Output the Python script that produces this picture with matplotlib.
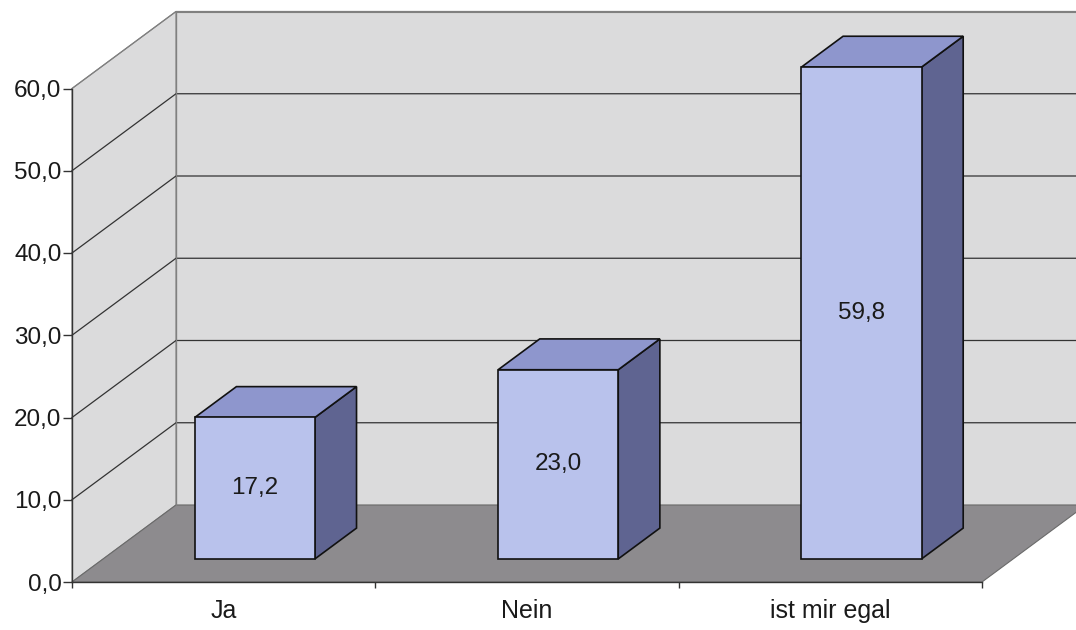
import matplotlib
matplotlib.use("Agg")
import matplotlib.pyplot as plt
from matplotlib.patches import Polygon

plt.rcParams['font.family'] = ['Liberation Sans', 'DejaVu Sans']

# ---- data ----
categories = ["Ja", "Nein", "ist mir egal"]
values = [17.2, 23.0, 59.8]
y_ticks = [0, 10, 20, 30, 40, 50, 60]
y_tick_labels = ["0,0", "10,0", "20,0", "30,0", "40,0", "50,0", "60,0"]
value_labels = ["17,2", "23,0", "59,8"]

W, H = 1076, 630
fig = plt.figure(figsize=(W / 100, H / 100), dpi=100)
fig.patch.set_facecolor("white")

# front plane of the 3D box in pixel coordinates
px_left, px_right = 72, 982
py_bottom, py_top = 582, 88.5
ax = fig.add_axes([px_left / W, (H - py_bottom) / H,
                   (px_right - px_left) / W, (py_bottom - py_top) / H])
ymax = 60
ax.set_xlim(0, len(categories))
ax.set_ylim(0, ymax)
ax.set_facecolor("none")

# depth offsets (full depth) in data units
px_per_cat = (px_right - px_left) / len(categories)
px_per_val = (py_bottom - py_top) / ymax
DX = 104 / px_per_cat
DY = 77 / px_per_val


def proj(x, y, d):
    return (x + d * DX, y + d * DY)


def poly(pts, fc, ec, lw, z):
    p = Polygon(pts, closed=True, facecolor=fc, edgecolor=ec, linewidth=lw,
                zorder=z, clip_on=False, joinstyle="miter")
    ax.add_patch(p)


n = len(categories)
wall_c = "#dbdbdc"
floor_c = "#8d8b8e"

# back wall
poly([proj(0, 0, 1), proj(n, 0, 1), proj(n, ymax, 1), proj(0, ymax, 1)],
     wall_c, "#808080", 0.8, 0.2)
# left wall
poly([proj(0, 0, 0), proj(0, 0, 1), proj(0, ymax, 1), proj(0, ymax, 0)],
     wall_c, "#808080", 0.8, 0.3)
# floor
poly([proj(0, 0, 0), proj(n, 0, 0), proj(n, 0, 1), proj(0, 0, 1)],
     floor_c, "#6a6a6a", 0.8, 0.4)

# gridlines on side wall and back wall
for v in y_ticks[1:]:
    a = proj(0, v, 0)
    b = proj(0, v, 1)
    c = proj(n, v, 1)
    col = "#333333" if v < ymax else "#808080"
    ax.plot([a[0], b[0], c[0]], [a[1], b[1], c[1]], color=col, lw=0.9,
            zorder=0.5, clip_on=False)
# back wall left edge
b0 = proj(0, 0, 1)
b1 = proj(0, ymax, 1)
ax.plot([b0[0], b1[0]], [b0[1], b1[1]], color="#808080", lw=0.9, zorder=0.5,
        clip_on=False)

# bars
bw = 0.396
d0, d1 = 0.30, 0.70
front_c = "#b9c2ec"
top_c = "#8e96cd"
side_c = "#5f6491"
for i, v in enumerate(values):
    x0 = i + (1 - bw) / 2
    x1 = x0 + bw
    poly([proj(x1, 0, d0), proj(x1, 0, d1), proj(x1, v, d1), proj(x1, v, d0)],
         side_c, "#111111", 1.2, 3)
    poly([proj(x0, v, d0), proj(x1, v, d0), proj(x1, v, d1), proj(x0, v, d1)],
         top_c, "#111111", 1.2, 3)
    poly([proj(x0, 0, d0), proj(x1, 0, d0), proj(x1, v, d0), proj(x0, v, d0)],
         front_c, "#111111", 1.2, 4)
    cx, cy = proj((x0 + x1) / 2, v / 2, d0)
    ax.text(cx, cy, value_labels[i], ha="center", va="center", fontsize=17.5,
            color="#1a1a1a", zorder=5)

# axes styling
for s in ["top", "right"]:
    ax.spines[s].set_visible(False)
for s in ["left", "bottom"]:
    ax.spines[s].set_color("#333333")
    ax.spines[s].set_linewidth(1.0)
    ax.spines[s].set_zorder(6)

ax.set_yticks(y_ticks)
ax.set_yticklabels(y_tick_labels)
ax.tick_params(axis="y", length=6.5, width=1.0, color="#333333", pad=1,
               labelsize=17.5, labelcolor="#1a1a1a")

ax.set_xticks(range(n + 1))
ax.set_xticklabels([""] * (n + 1))
ax.tick_params(axis="x", which="major", length=4.5, width=1.0, color="#333333")
ax.set_xticks([i + 0.5 for i in range(n)], minor=True)
ax.set_xticklabels(categories, minor=True)
ax.tick_params(axis="x", which="minor", length=0, pad=12, labelsize=18,
               labelcolor="#1a1a1a")

fig.savefig("out.png", dpi=100)
